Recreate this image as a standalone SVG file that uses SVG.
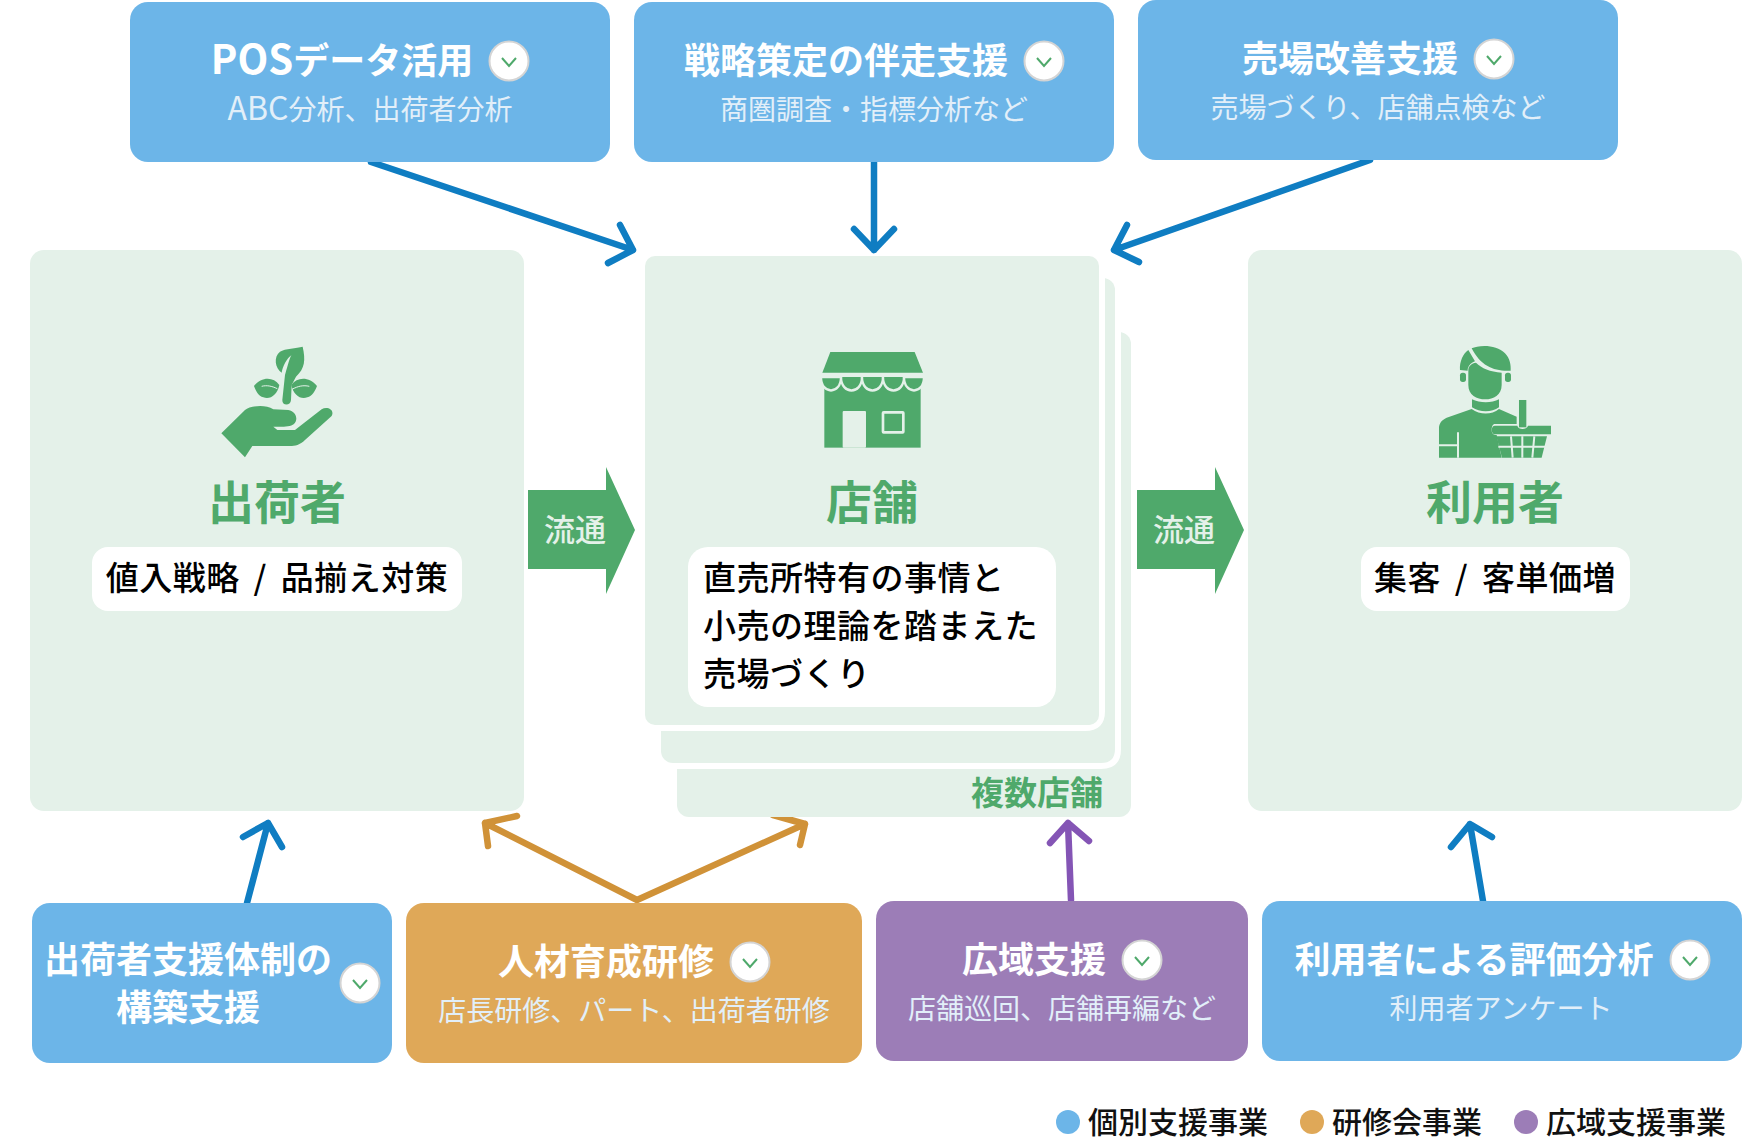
<svg xmlns="http://www.w3.org/2000/svg" width="1756" height="1144" viewBox="0 0 1756 1144">
<defs>
<g id="chev"><circle r="19.5" fill="#fff" stroke="#d4d4d4" stroke-width="2"/><path d="M-7,-3 L0,5 L7,-3" fill="none" stroke="#4fa96b" stroke-width="2"/></g>
</defs>
<style>
text{font-family:"Noto Sans CJK JP","Noto Sans",sans-serif;text-anchor:middle}
.t{font-size:36px;font-weight:700;fill:#fff}
.s{font-size:28px;font-weight:400;fill:#e2eff9}
.l{font-size:33px;font-weight:500;fill:#000;letter-spacing:.5px}
.ls{text-anchor:start}
.h{font-size:46px;font-weight:700;fill:#4fa96b}
.f{font-size:31px;font-weight:500;fill:#e4f1e9}
.g{font-size:30px;font-weight:500;fill:#111;text-anchor:start}
.blue{fill:#6cb5e8}.or{fill:#dfa858}.pu{fill:#9c7db7}.bg{fill:#e4f1e9}.gr{fill:#4fa96b}
.ln{fill:none;stroke-width:6.5;stroke-linecap:round;stroke-linejoin:round}
</style>
<rect width="1756" height="1144" fill="#fff"/>

<g id="connectors" class="ln">
<g stroke="#0f7dc2">
<path d="M371,162 L633,250 M620,225 L633,250 L608,263"/>
<path d="M874,162 V250 M854,229 L874,250 L894,229"/>
<path d="M1370,160 L1114,250 M1127,225 L1114,250 L1139,262"/>
<path d="M247,903 L268,823 M243,837 L268,823 L282,847"/>
<path d="M1483,901 L1470,824 M1451,847 L1470,824 L1492,837"/>
</g>
<g stroke="#d09238">
<path d="M485,823 L637,900 L805,824 M517,816 L485,823 L488,846 M773,815 L805,824 L800,845"/>
</g>
<path stroke="#8455b5" d="M1071,900 L1068,823 M1050,843 L1068,823 L1089,841"/>
</g>

<g id="node-shipper">
<rect class="bg" x="30" y="250" width="494" height="561" rx="14"/>
<g class="gr" transform="translate(190,320) scale(.3333)">
<path d="M94,340 L165,270 C180,258 225,252 250,268 L295,270 C320,275 325,300 312,312 C300,322 270,320 250,320 L262,330 L315,330 L395,268 C412,258 435,270 425,288 L345,360 C330,375 315,378 300,378 L187,378 L165,412 Z"/>
<path d="M338,80 C347,120 345,145 318,170 L305,195 L303,240 C302,258 276,258 277,240 L285,165 C295,130 300,110 305,105 C290,115 278,140 275,158 C255,145 250,110 270,95 C285,85 320,85 338,80Z"/>
<path d="M192,198 C215,170 250,170 268,195 C262,225 240,240 220,232 C205,228 197,212 192,198Z"/>
<path d="M381,198 C358,170 322,170 304,195 C310,225 332,240 352,232 C367,228 376,212 381,198Z"/>
<path d="M215,199 C230,195 245,198 262,206 M358,199 C340,195 325,198 306,208" fill="none" stroke="#e4f1e9" stroke-width="3"/>
</g>
<text class="h" x="277" y="519">出荷者</text>
<rect x="92" y="547" width="370" height="64" rx="16" fill="#fff"/>
<text class="l" x="277" y="590" xml:space="preserve">値入戦略 <tspan dx="6">/</tspan><tspan dx="6"> 品揃え対策</tspan></text>
</g>

<g id="node-store">
<rect class="bg" x="677" y="332" width="454" height="485" rx="12"/>
<rect class="bg" x="661" y="278" width="454" height="485" rx="12"/>
<path d="M661,769 H1101 Q1121,769 1121,749 V330 H1115 V749 Q1115,763 1101,763 H661Z" fill="#fff"/>
<path d="M645,731 H1085 Q1105,731 1105,711 V272 H1099 V711 Q1099,725 1085,725 H645Z" fill="#fff"/>
<rect class="bg" x="645" y="256" width="454" height="469" rx="10"/>
<g transform="translate(780,320) scale(.3333)">
<path class="gr" d="M151,96 H404 L429,158 H127 Z"/>
<rect class="gr" x="133" y="190" width="289" height="193"/>
<g class="gr" stroke="#e4f1e9" stroke-width="7">
<path d="M183,171 C183,225 246,225 246,171"/><path d="M246,171 C246,225 309,225 309,171"/><path d="M309,171 C309,225 372,225 372,171"/>
<path d="M372,171 C372,225 432,225 432,171Z"/>
<path d="M123,171 C123,225 183,225 183,171Z"/>
</g>
<rect class="bg" x="188" y="273" width="70" height="110" rx="3"/>
<rect x="309" y="277" width="61" height="60" fill="none" stroke="#e4f1e9" stroke-width="8" rx="2"/>
</g>
<text class="h" x="872" y="519">店舗</text>
<rect x="688" y="547" width="368" height="160" rx="20" fill="#fff"/>
<text class="l ls" x="703" y="590">直売所特有の事情と</text>
<text class="l ls" x="703" y="638">小売の理論を踏まえた</text>
<text class="l ls" x="703" y="686">売場づくり</text>
<text x="1037" y="805" style="font-size:33px;font-weight:700;fill:#4fa96b">複数店舗</text>
</g>

<g id="node-user">
<rect class="bg" x="1248" y="250" width="494" height="561" rx="14"/>
<g class="gr" transform="translate(1400,320) scale(.3333)">
<path d="M180,150 C178,125 190,100 205,90 L225,124 C210,130 203,140 203,152 Z"/>
<path d="M215,85 C235,75 290,72 315,100 C330,115 333,135 332,152 C285,155 243,140 215,85Z"/>
<rect x="180" y="158" width="18" height="28" rx="8"/><rect x="315" y="158" width="18" height="28" rx="8"/>
<path d="M205,150 C205,138 215,130 228,128 C245,145 270,155 305,158 V195 C305,225 280,238 256,238 C230,238 205,225 205,195Z"/>
<path d="M216,238 C240,250 275,250 297,238 V262 C275,278 240,278 216,262Z"/>
<path d="M117,413 V325 C117,310 125,300 140,293 L215,267 C240,285 275,285 297,267 L350,290 V312 H285 C278,312 275,320 275,330 C275,342 282,345 290,345 L305,413 Z"/>
<path d="M174,337 V413 M117,376 H174" fill="none" stroke="#e4f1e9" stroke-width="6"/>
<rect x="357" y="240" width="22" height="82"/>
<path d="M285,317 H352 C355,330 380,330 384,317 H453 V343 H285 C272,343 272,317 285,317Z"/>
<path d="M289,349 H441 L425,413 H306 Z"/>
<path d="M333,349 L338,413 M367,349 V413 M403,349 L397,413 M295,380 H436" fill="none" stroke="#e4f1e9" stroke-width="6"/>
</g>
<text class="h" x="1495" y="519">利用者</text>
<rect x="1361" y="547" width="269" height="64" rx="16" fill="#fff"/>
<text class="l" x="1495" y="590" xml:space="preserve">集客 <tspan dx="6">/</tspan><tspan dx="6"> 客単価増</tspan></text>
</g>

<g id="flow-1"><path class="gr" d="M528,490 H606 V467 L635,530 L606,594 V569 H528Z"/><text class="f" x="575" y="541">流通</text></g>
<g id="flow-2"><path class="gr" d="M1137,490 H1215 V467 L1244,530 L1215,594 V569 H1137Z"/><text class="f" x="1184" y="541">流通</text></g>

<g id="node-pos"><rect class="blue" x="130" y="2" width="480" height="160" rx="18"/>
<text class="t" x="342" y="74"><tspan style="font-size:40px">POS</tspan>データ活用</text><use href="#chev" x="509" y="61"/><text class="s" x="370" y="120"><tspan style="font-size:32px">ABC</tspan>分析、出荷者分析</text></g>
<g id="node-strategy"><rect class="blue" x="634" y="2" width="480" height="160" rx="18"/>
<text class="t" x="846" y="74">戦略策定の伴走支援</text><use href="#chev" x="1044" y="61"/><text class="s" x="874" y="120">商圏調査・指標分析など</text></g>
<g id="node-floor"><rect class="blue" x="1138" y="0" width="480" height="160" rx="18"/>
<text class="t" x="1350" y="72">売場改善支援</text><use href="#chev" x="1494" y="59"/><text class="s" x="1378" y="118">売場づくり、店舗点検など</text></g>

<g id="node-shipper-support"><rect class="blue" x="32" y="903" width="360" height="160" rx="18"/>
<text class="t" x="188" y="973">出荷者支援体制の</text><text class="t" x="188" y="1021">構築支援</text><use href="#chev" x="360" y="983"/></g>
<g id="node-training"><rect class="or" x="406" y="903" width="456" height="160" rx="18"/>
<text class="t" x="606" y="975">人材育成研修</text><use href="#chev" x="750" y="962"/><text class="s" x="634" y="1021">店長研修、パート、出荷者研修</text></g>
<g id="node-wide"><rect class="pu" x="876" y="901" width="372" height="160" rx="18"/>
<text class="t" x="1034" y="973">広域支援</text><use href="#chev" x="1142" y="960"/><text class="s" x="1062" y="1019">店舗巡回、店舗再編など</text></g>
<g id="node-eval"><rect class="blue" x="1262" y="901" width="480" height="160" rx="18"/>
<text class="t" x="1474" y="973">利用者による評価分析</text><use href="#chev" x="1690" y="960"/><text class="s" x="1501" y="1019">利用者アンケート</text></g>

<g id="legend">
<circle class="blue" cx="1068" cy="1122" r="12"/><text class="g" x="1088" y="1133">個別支援事業</text>
<circle class="or" cx="1312" cy="1122" r="12"/><text class="g" x="1332" y="1133">研修会事業</text>
<circle class="pu" cx="1526" cy="1122" r="12"/><text class="g" x="1546" y="1133">広域支援事業</text>
</g>
</svg>
